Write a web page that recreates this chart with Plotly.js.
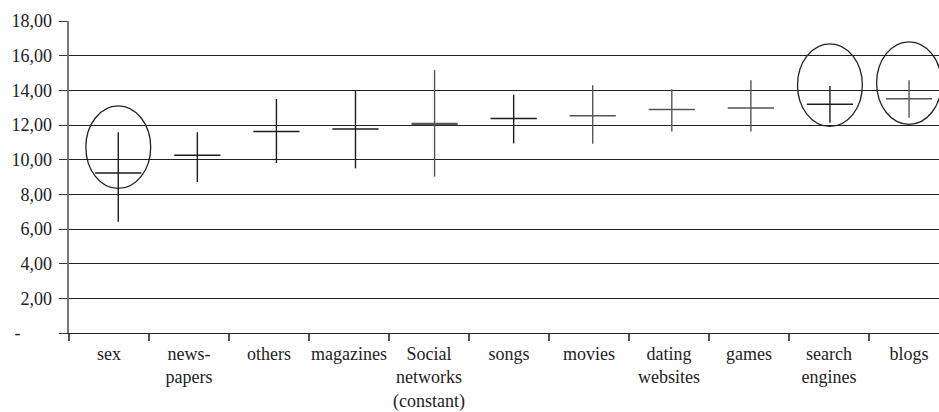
<!DOCTYPE html>
<html>
<head>
<meta charset="utf-8">
<script src="https://cdn.plot.ly/plotly-3.0.1.min.js"></script>
<style>html,body{margin:0;padding:0;background:#fff;}#chart{width:939px;height:412px;}</style>
</head>
<body>
<div id="chart"></div>
<script>
// ---- data ----
const categories = ["sex", "news-<br>papers", "others", "magazines", "Social<br>networks<br>(constant)", "songs", "movies", "dating<br>websites", "games", "search<br>engines", "blogs"];
const meanValues = [9.23, 10.25, 11.63, 11.77, 12.06, 12.37, 12.54, 12.90, 12.98, 13.19, 13.52];
const maxValues  = [11.58, 11.58, 13.50, 13.96, 15.17, 13.75, 14.29, 14.06, 14.58, 14.25, 14.58];
const minValues  = [6.42, 8.71, 9.81, 9.50, 9.02, 10.94, 10.92, 11.63, 11.63, 12.13, 12.42];
const crossTone  = ["dark", "dark", "dark", "dark", "gray", "dark", "gray", "gray", "gray", "dark", "gray"];
const yTickVals  = [0, 2, 4, 6, 8, 10, 12, 14, 16, 18];
const yTickText  = ["-\u00a0\u00a0\u00a0\u00a0\u00a0\u00a0\u00a0", "2,00", "4,00", "6,00", "8,00", "10,00", "12,00", "14,00", "16,00", "18,00"];
const highlighted = [0, 9, 10];            // circled categories
const highlightCenter = [10.72, 14.30, 14.42];

// ---- styles ----
const toneColor = {dark: "#1c1c1c", gray: "#555555"};
const fontFam = "'Liberation Serif', 'Times New Roman', serif";

const traces = [];
traces.push({
  x: categories, y: categories.map(() => null), type: "scatter", mode: "markers",
  xaxis: "x", yaxis: "y", hoverinfo: "skip", showlegend: false
});
categories.forEach((c, i) => {
  const col = toneColor[crossTone[i]];
  traces.push({
    x: [i], y: [meanValues[i]], type: "scatter", mode: "markers",
    xaxis: "x2", yaxis: "y", showlegend: false, hoverinfo: "skip",
    marker: {symbol: "line-ew", size: 33, color: col, line: {color: col, width: i === 4 ? 2.5 : 1.5}},
    error_y: {type: "data", symmetric: false,
      array: [maxValues[i] - meanValues[i]],
      arrayminus: [meanValues[i] - minValues[i]],
      width: 0, thickness: 1.4, color: col}
  });
});

const shapes = highlighted.map((idx, k) => ({
  type: "circle", xref: "x2", yref: "y",
  x0: idx - 0.41, x1: idx + 0.41,
  y0: highlightCenter[k] - 2.38, y1: highlightCenter[k] + 2.38,
  line: {color: "#222", width: 1.3}
}));

const layout = {
  width: 939, height: 412,
  margin: {l: 69, r: 0, t: 21, b: 79, pad: 0},
  paper_bgcolor: "#fff", plot_bgcolor: "#fff",
  showlegend: false,
  font: {family: fontFam, color: "#222", size: 18},
  xaxis: {
    type: "category", range: [-0.5, 10.375],
    tickson: "boundaries", ticks: "outside", ticklen: 7, tickcolor: "#555", tickwidth: 1.5,
    showgrid: false, zeroline: false, showline: true, linecolor: "#222", linewidth: 1.3,
    tickfont: {family: fontFam, size: 18, color: "#222"}, tickangle: 0,
    ticklabelstandoff: 4, fixedrange: true
  },
  xaxis2: {
    overlaying: "x", type: "linear", range: [-0.623, 10.379], visible: false, fixedrange: true
  },
  yaxis: {
    range: [0, 18], tickvals: yTickVals, ticktext: yTickText,
    ticks: "outside", ticklen: 8, tickcolor: "#333", tickwidth: 1,
    showgrid: true, gridcolor: "#222", gridwidth: 1,
    zeroline: false, showline: true, linecolor: "#777", linewidth: 2.5,
    tickfont: {family: fontFam, size: 18, color: "#222"},
    ticklabelstandoff: 3, fixedrange: true
  },
  shapes: shapes
};

Plotly.newPlot("chart", traces, layout, {staticPlot: true, displayModeBar: false});
</script>
</body>
</html>
